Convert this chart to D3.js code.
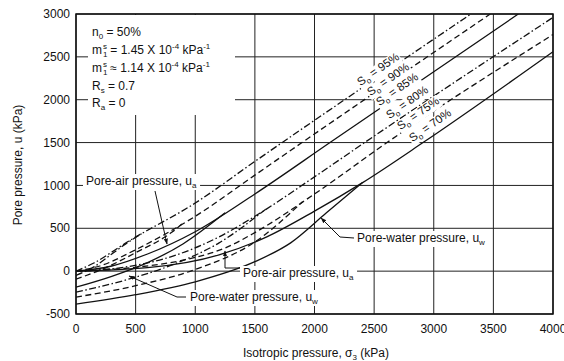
<!DOCTYPE html>
<html><head><meta charset="utf-8">
<script src="https://cdn.jsdelivr.net/npm/d3@7"></script>
<style>body{margin:0;background:#fff}svg{display:block;font-family:"Liberation Sans",Arial,sans-serif}</style>
</head><body><svg id="c" width="564" height="361"></svg>
<script>
// ---------- data ----------
const xTicks = [0, 500, 1000, 1500, 2000, 2500, 3000, 3500, 4000];
const yTicks = [-500, 0, 500, 1000, 1500, 2000, 2500, 3000];
const saturations = ["95%", "90%", "85%", "80%", "75%", "70%"];
const lineKinds = ["dashdot", "dashed", "solid", "dashdot", "dashed", "solid"];
// pore-air pressure (continuing along the common saturated line)
const ua95 = [[0,0],[150,95],[430,340],[1000,795],[1500,1280],[3312,3000]];
const ua90 = [[0,0],[200,60],[500,250],[1000,640],[1500,1120],[1895,1500],[3474,3000]];
const ua85 = [[0,0],[300,60],[600,200],[1000,460],[1500,900],[2130,1500],[3709,3000]];
const ua80 = [[0,0],[400,45],[800,170],[1200,400],[1500,640],[2000,1100],[2420,1500],[4000,2960]];
const ua75 = [[0,0],[500,45],[1000,160],[1250,270],[1500,450],[2000,900],[2608,1500],[4000,2760]];
const ua70 = [[0,0],[600,40],[1200,190],[1600,400],[2000,700],[2400,1030],[2910,1500],[4000,2560]];
// pore-water pressure (up to the point where it meets the pore-air curve)
const uw95 = [[0,-50],[150,50],[300,200],[430,330],[550,436]];
const uw90 = [[0,-93],[200,10],[500,215],[800,450],[900,562]];
const uw85 = [[0,-187],[300,-60],[600,100],[900,320],[1250,680]];
const uw80 = [[0,-245],[400,-110],[800,70],[1200,330],[1600,732]];
const uw75 = [[0,-303],[500,-170],[1000,20],[1500,340],[1900,810]];
const uw70 = [[0,-385],[500,-275],[1000,-125],[1500,110],[1800,330],[2100,680],[2400,1030]];
const uaSeries = [ua95, ua90, ua85, ua80, ua75, ua70];
const uwSeries = [uw95, uw90, uw85, uw80, uw75, uw70];
// label anchor points along the lines (data units)
const labelAt = [[2532,2357],[2616,2240],[2692,2123],[2776,1972],[2868,1843],[2969,1703]];

// ---------- drawing ----------
const svg = d3.select("#c");
const x = d3.scaleLinear().domain([0, 4000]).range([76, 553]);
const y = d3.scaleLinear().domain([-500, 3000]).range([314, 14]);
const dash = {solid: null, dashed: "6,3.5", dashdot: "7,2.5,1.5,2.5"};

svg.append("defs").html(
  '<clipPath id="clip"><rect x="76" y="14" width="477" height="300"/></clipPath>' +
  '<marker id="arr" viewBox="0 0 10 10" refX="9" refY="5" markerWidth="6" markerHeight="6" orient="auto-start-reverse"><path d="M0,1.5L10,5L0,8.5z" fill="#111"/></marker>');

// grid
const g = svg.append("g");
g.selectAll("line.gx").data(xTicks).join("line")
  .attr("x1", d => x(d)).attr("x2", d => x(d)).attr("y1", y(-500)).attr("y2", y(3000))
  .attr("stroke", "#222").attr("stroke-width", 1);
g.selectAll("line.gy").data(yTicks).join("line")
  .attr("y1", d => y(d)).attr("y2", d => y(d)).attr("x1", x(0)).attr("x2", x(4000))
  .attr("stroke", "#222").attr("stroke-width", 1);

// curves
const line = d3.line().x(d => x(d[0])).y(d => y(d[1])).curve(d3.curveMonotoneX);
const cg = svg.append("g").attr("clip-path", "url(#clip)");
saturations.forEach((s, i) => {
  [uaSeries[i], uwSeries[i]].forEach(pts => {
    cg.append("path").attr("d", line(pts)).attr("fill", "none")
      .attr("stroke", "#111").attr("stroke-width", 1.3)
      .attr("stroke-dasharray", dash[lineKinds[i]]);
  });
});

// white box behind parameter text
svg.append("rect").attr("x", 88).attr("y", 15).attr("width", 147).attr("height", 100).attr("fill", "#fff");

// parameter text
const pt = svg.append("g").attr("font-size", 12).attr("fill", "#111");
const p1 = pt.append("text").attr("x", 92).attr("y", 36);
p1.append("tspan").text("n");
p1.append("tspan").attr("font-size", 8).attr("dy", 3).text("0");
p1.append("tspan").attr("dy", -3).text(" = 50%");
function mline(yy, rel, val) {
  const t = pt.append("text").attr("x", 92).attr("y", yy);
  t.append("tspan").text("m");
  t.append("tspan").attr("font-size", 8).attr("dx", 1).attr("dy", 3).text("1");
  t.append("tspan").attr("font-size", 8).attr("dx", -4.5).attr("dy", -8).text("s");
  t.append("tspan").attr("dy", 5).text(" " + rel + " " + val + " X 10");
  t.append("tspan").attr("font-size", 8).attr("dy", -5).text("-4");
  t.append("tspan").attr("dy", 5).text(" kPa");
  t.append("tspan").attr("font-size", 8).attr("dy", -5).text("-1");
}
mline(54, "=", "1.45");
mline(72, "\u2248", "1.14");
const p4 = pt.append("text").attr("x", 92).attr("y", 90);
p4.append("tspan").text("R");
p4.append("tspan").attr("font-size", 8).attr("dy", 3).text("s");
p4.append("tspan").attr("dy", -3).text(" = 0.7");
const p5 = pt.append("text").attr("x", 92).attr("y", 107);
p5.append("tspan").text("R");
p5.append("tspan").attr("font-size", 8).attr("dy", 3).text("a");
p5.append("tspan").attr("dy", -3).text(" = 0");

// S0 labels
saturations.forEach((s, i) => {
  const [lx, ly] = labelAt[i];
  const gg = svg.append("g").attr("transform", `translate(${x(lx)},${y(ly)}) rotate(-35)`);
  const t = gg.append("text").attr("text-anchor", "middle").attr("dy", "0.35em")
    .attr("font-size", 11.5).attr("fill", "#111");
  t.append("tspan").text("S");
  t.append("tspan").attr("font-size", 8).attr("dy", 3).text("o");
  t.append("tspan").attr("dy", -3).text(" = " + s);
  const bb = t.node().getBBox();
  gg.insert("rect", "text").attr("x", bb.x - 1).attr("y", bb.y + 1).attr("width", bb.width + 2)
    .attr("height", bb.height - 2).attr("fill", "#fff");
});

// annotations
function label(tx, ty, main, sub) {
  const gg = svg.append("g");
  const t = gg.append("text").attr("x", tx).attr("y", ty).attr("font-size", 12).attr("fill", "#111");
  t.append("tspan").text(main);
  t.append("tspan").attr("font-size", 8).attr("dy", 3).text(sub);
  const bb = t.node().getBBox();
  gg.insert("rect", "text").attr("x", bb.x - 3).attr("y", bb.y).attr("width", bb.width + 6)
    .attr("height", bb.height).attr("fill", "#fff");
}
function leader(pts) {
  svg.append("path").attr("d", d3.line()(pts)).attr("fill", "none").attr("stroke", "#111")
    .attr("stroke-width", 1).attr("marker-end", "url(#arr)");
}
label(86, 185, "Pore-air pressure, u", "a");
leader([[155, 191], [167, 244]]);
label(243, 277, "Pore-air pressure, u", "a");
leader([[240, 268], [225, 268], [225, 251]]);
label(190, 301, "Pore-water pressure, u", "w");
leader([[186, 297], [177, 297], [129, 276]]);
label(357, 242, "Pore-water pressure, u", "w");
leader([[354, 238], [340, 237], [321, 218]]);

// frame
svg.append("rect").attr("x", 76).attr("y", 14).attr("width", 477).attr("height", 300)
  .attr("fill", "none").attr("stroke", "#111").attr("stroke-width", 1.5);

// tick labels
svg.append("g").selectAll("text").data(xTicks).join("text")
  .attr("x", d => x(d)).attr("y", 333).attr("text-anchor", "middle")
  .attr("font-size", 12).attr("fill", "#111").text(d => d);
svg.append("g").selectAll("text").data(yTicks).join("text")
  .attr("x", 70).attr("y", d => y(d)).attr("dy", "0.35em").attr("text-anchor", "end")
  .attr("font-size", 12).attr("fill", "#111").text(d => d);

// axis titles
const xt = svg.append("text").attr("x", 316).attr("y", 357).attr("text-anchor", "middle")
  .attr("font-size", 12).attr("fill", "#111");
xt.append("tspan").text("Isotropic pressure, \u03c3");
xt.append("tspan").attr("font-size", 8).attr("dy", 3).text("3");
xt.append("tspan").attr("dy", -3).text(" (kPa)");
svg.append("text").attr("transform", "translate(22,165) rotate(-90)").attr("text-anchor", "middle")
  .attr("font-size", 12).attr("fill", "#111").text("Pore pressure, u (kPa)");
</script></body></html>
